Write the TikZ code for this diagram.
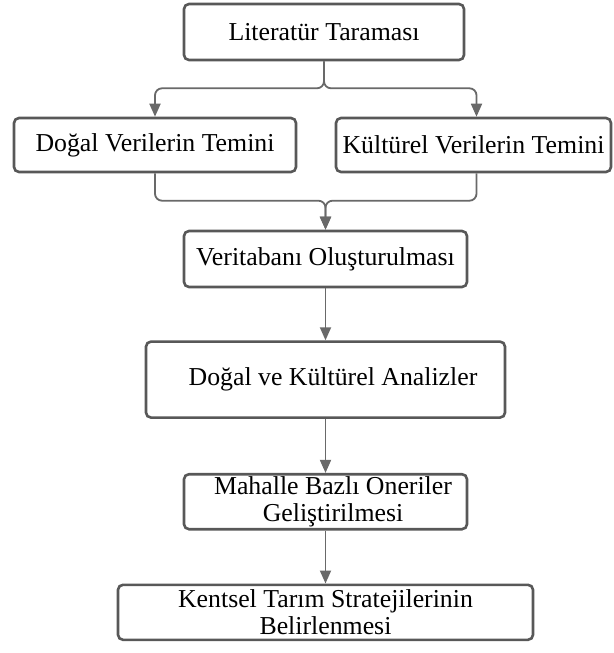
\documentclass[tikz,border=0pt]{standalone}
\usepackage{fontspec}
\setmainfont{Liberation Serif}
\usetikzlibrary{positioning,arrows.meta}
\definecolor{boxgray}{RGB}{88,88,88}
\definecolor{linegray}{RGB}{105,105,105}

\begin{document}
\begin{tikzpicture}[x=1pt,y=1pt,% styles for all boxes and links
      every node/.style={
        align=center,                            % so that "\\" breaks lines
        font=\fontsize{25.8}{27}\selectfont
      },
      stepbox/.style={rectangle,rounded corners=5pt,draw=boxgray,
        line width=2.6pt,fill=white,inner sep=0pt},
      link/.style={draw=linegray,line width=1.8pt,rounded corners=7pt,
        -{Triangle[width=11pt,length=13pt]}}
    ]
    \useasboundingbox (0,0) rectangle (613,-653);

    \node[stepbox,minimum width=280pt,minimum height=56pt](lit) at (324,-32)
      {Literatür Taraması};
    \node[stepbox,minimum width=282pt,minimum height=54pt](dogal) at (155,-145)
      {Doğal Verilerin Temini};
    \node[stepbox,minimum width=275pt,minimum height=54pt](kultur) at (473.5,-145)
      {Kültürel Verilerin Temini};
    \node[stepbox,minimum width=283pt,minimum height=56pt](veri) at (325.5,-259)
      {Veritabanı Oluşturulması};
    \node[stepbox,minimum width=359pt,minimum height=76pt](analiz)[below=52pt of veri]
      {\hspace*{15pt}Doğal ve Kültürel Analizler};
    \node[stepbox,minimum width=283pt,minimum height=55pt](mahalle)[below=54pt of analiz]
      {\hspace*{15pt}Mahalle Bazlı Oneriler \\ \hspace*{15pt}Geliştirilmesi};
    \node[stepbox,minimum width=415pt,minimum height=55pt](kentsel)[below=53pt of mahalle]
      {Kentsel Tarım Stratejilerinin \\ Belirlenmesi};

    \coordinate[below=27pt of lit] (split);
    \coordinate[above=29pt of veri] (merge);

    \draw[link] (lit.south) -- (split) -| (dogal.north);
    \draw[link] (lit.south) -- (split) -| ([xshift=3pt]kultur.north);
    \draw[link] (dogal.south) |- (merge) -- (veri.north);
    \draw[link] ([xshift=3pt]kultur.south) |- (merge) -- (veri.north);
    \draw[link] (veri) -- (analiz);
    \draw[link] (analiz) -- (mahalle);
    \draw[link] (mahalle) -- (kentsel);
  \end{tikzpicture}
\end{document}
